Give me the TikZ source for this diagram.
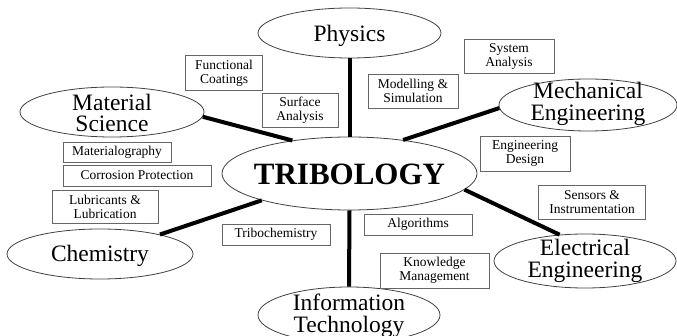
\documentclass[tikz,border=0pt]{standalone}
\usepackage{fontspec}
\setmainfont{Liberation Serif}
\usetikzlibrary{shapes.geometric}
\tikzset{
  topic/.style={ellipse, draw=black!75, line width=0.8pt, inner sep=0pt},
  topictext/.style={font=\fontsize{23.5}{21.5}\selectfont, align=center, inner sep=0pt},
  tbox/.style={rectangle, draw=black!60, line width=0.9pt, inner sep=0pt,
    font=\fontsize{13.5}{14}\selectfont, align=center},
  link/.style={line width=4pt, black}
}
\begin{document}
\begin{tikzpicture}[x=1pt,y=-1pt]
\useasboundingbox (0,0) rectangle (677,336);
% topic ellipses
\node[topic, minimum width=183pt, minimum height=50pt] (phys) at (349.5,33) {};
\node[topic, minimum width=184pt, minimum height=50pt] (mat) at (112,112) {};
\node[topic, minimum width=178pt, minimum height=52pt] (mech) at (588,105) {};
\node[topic, minimum width=255pt, minimum height=73pt] (trib) at (349.5,173.5) {};
\node[topic, minimum width=186pt, minimum height=50pt] (chem) at (100,254) {};
\node[topic, minimum width=182pt, minimum height=54pt] (elec) at (585,261) {};
\node[topic, minimum width=182pt, minimum height=56pt] (it) at (349,315) {};
% topic texts
\node[topictext] (physT) at ([yshift=-2.5pt]phys.center) {Physics};
\node[topictext] (matT) at ([yshift=-1pt]mat.center) {Material\\Science};
\node[topictext] (mechT) at ([yshift=1pt]mech.center) {Mechanical\\Engineering};
\node[inner sep=0pt, font=\fontsize{31}{31}\selectfont\bfseries] (tribT) at ([yshift=-1pt]trib.center) {TRIBOLOGY};
\node[topictext] (chemT) at ([yshift=-2pt]chem.center) {Chemistry};
\node[topictext] (elecT) at (elec.center) {Electrical\\Engineering};
\node[topictext] (itT) at ([yshift=-1pt]it.center) {Information\\Technology};
% connectors
\draw[link] (phys.south) -- (trib.north);
\draw[link] (mat.-3) -- (trib.150);
\draw[link] (trib.32) -- (mech.182);
\draw[link] (chem.18) -- (trib.197);
\draw[link] (trib.-8) -- (elec.134);
\draw[link] (trib.south) -- (it.north);
% boxes
\node[tbox, minimum width=77pt, minimum height=35pt] (fc) at (224,73) {Functional\\Coatings};
\node[tbox, minimum width=76pt, minimum height=34pt] (sa) at (300,110) {Surface\\Analysis};
\node[tbox, minimum width=108pt, minimum height=20pt] (mg) at (117,152) {Materialography};
\node[tbox, minimum width=148pt, minimum height=21pt] (cp) at (137,175.5) {Corrosion Protection};
\node[tbox, minimum width=106pt, minimum height=33pt] (ll) at (105,206.5) {Lubricants \&\\Lubrication};
\node[tbox, minimum width=108pt, minimum height=21pt] (tc) at (276,234.5) {Tribochemistry};
\node[tbox, minimum width=90pt, minimum height=34pt] (sys) at (509,56) {System\\Analysis};
\node[tbox, minimum width=90pt, minimum height=34pt] (ms) at (413,91) {Modelling \&\\Simulation};
\node[tbox, minimum width=90pt, minimum height=35pt] (ed) at (525,153.5) {Engineering\\Design};
\node[tbox, minimum width=107pt, minimum height=34pt] (si) at (592,202) {Sensors \&\\Instrumentation};
\node[tbox, minimum width=108pt, minimum height=21pt] (al) at (418,224.5) {Algorithms};
\node[tbox, minimum width=109pt, minimum height=35pt] (km) at (434.5,270.5) {Knowledge\\Management};
\end{tikzpicture}
\end{document}
